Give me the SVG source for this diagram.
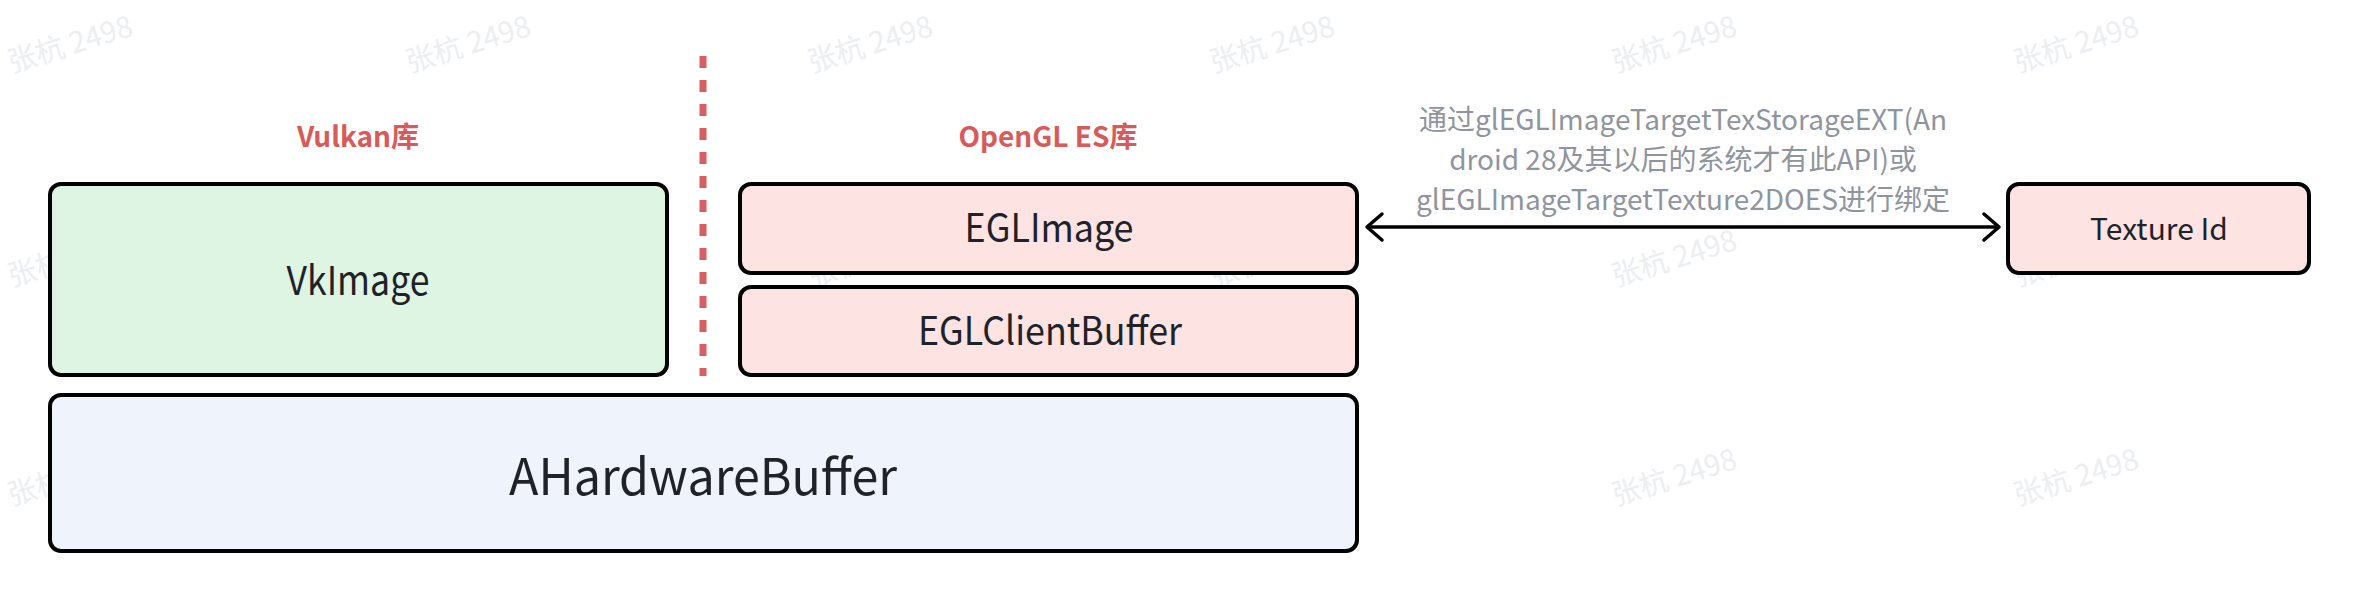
<svg xmlns="http://www.w3.org/2000/svg" width="2362" height="602" viewBox="0 0 2362 602">
<style>
.box{stroke:#000;stroke-width:4}
.green{fill:#def5e4}
.pink{fill:#fee3e3}
.blue{fill:#eff3fb}
.t{font-family:"Noto Sans CJK SC","Noto Sans",sans-serif;fill:#1f2329;text-anchor:middle}
.lib{font-family:"Noto Sans CJK SC","Noto Sans",sans-serif;fill:#d65b5a;font-weight:bold;font-size:28px;text-anchor:middle}
.lbl{font-family:"Noto Sans CJK SC","Noto Sans",sans-serif;fill:#8f959e;font-size:28px;text-anchor:middle}
.wm{font-family:"Noto Sans CJK SC","Liberation Sans",sans-serif;fill:#eceef1;font-size:29px;text-anchor:middle}
.conn{stroke:#000;stroke-width:3.5;fill:none}
</style>
<defs>
<marker id="chev" viewBox="-18 -16 21 32" refX="0" refY="0" markerWidth="21" markerHeight="32" markerUnits="userSpaceOnUse" orient="auto-start-reverse">
<path d="M-15,-13 L0,0 L-15,13" fill="none" stroke="#000" stroke-width="3.5" stroke-linecap="round" stroke-linejoin="round"/>
</marker>
</defs>
<rect width="2362" height="602" fill="#fff"/>
<g id="watermarks">
<g id="wm-row1">
<text class="wm" transform="translate(73,54) rotate(-17)">张杭 2498</text>
<text class="wm" transform="translate(471,54) rotate(-17)">张杭 2498</text>
<text class="wm" transform="translate(873,54) rotate(-17)">张杭 2498</text>
<text class="wm" transform="translate(1275,54) rotate(-17)">张杭 2498</text>
<text class="wm" transform="translate(1677,54) rotate(-17)">张杭 2498</text>
<text class="wm" transform="translate(2079,54) rotate(-17)">张杭 2498</text>
</g>
<g id="wm-row2">
<text class="wm" transform="translate(73,268) rotate(-17)">张杭 2498</text>
<text class="wm" transform="translate(471,268) rotate(-17)">张杭 2498</text>
<text class="wm" transform="translate(873,268) rotate(-17)">张杭 2498</text>
<text class="wm" transform="translate(1275,268) rotate(-17)">张杭 2498</text>
<text class="wm" transform="translate(1677,268) rotate(-17)">张杭 2498</text>
<text class="wm" transform="translate(2079,268) rotate(-17)">张杭 2498</text>
</g>
<g id="wm-row3">
<text class="wm" transform="translate(73,487) rotate(-17)">张杭 2498</text>
<text class="wm" transform="translate(471,487) rotate(-17)">张杭 2498</text>
<text class="wm" transform="translate(873,487) rotate(-17)">张杭 2498</text>
<text class="wm" transform="translate(1275,487) rotate(-17)">张杭 2498</text>
<text class="wm" transform="translate(1677,487) rotate(-17)">张杭 2498</text>
<text class="wm" transform="translate(2079,487) rotate(-17)">张杭 2498</text>
</g>
</g>
<g id="divider">
<line x1="703" y1="56" x2="703" y2="376" stroke="#d5605f" stroke-width="7" stroke-dasharray="12 12"/>
</g>
<g id="vulkan-label"><text class="lib" x="358" y="147">Vulkan库</text></g>
<g id="opengl-label"><text class="lib" x="1048" y="147">OpenGL ES库</text></g>
<g id="vkimage">
<rect class="box green" x="50" y="184" width="617" height="191" rx="11"/>
<text class="t" x="358" y="295" font-size="40" textLength="143" lengthAdjust="spacingAndGlyphs">VkImage</text>
</g>
<g id="eglimage">
<rect class="box pink" x="740" y="184" width="617" height="89" rx="11"/>
<text class="t" x="1049" y="242" font-size="39" textLength="169" lengthAdjust="spacingAndGlyphs">EGLImage</text>
</g>
<g id="eglclientbuffer">
<rect class="box pink" x="740" y="287" width="617" height="88" rx="11"/>
<text class="t" x="1050" y="345" font-size="39" textLength="264" lengthAdjust="spacingAndGlyphs">EGLClientBuffer</text>
</g>
<g id="ahardwarebuffer">
<rect class="box blue" x="50" y="395" width="1307" height="156" rx="11"/>
<text class="t" x="703" y="495" font-size="50" textLength="388" lengthAdjust="spacingAndGlyphs">AHardwareBuffer</text>
</g>
<g id="textureid">
<rect class="box pink" x="2008" y="184" width="301" height="89" rx="11"/>
<text class="t" x="2159" y="240" font-size="30">Texture Id</text>
</g>
<g id="connectors">
<line class="conn" x1="1367" y1="227" x2="1999" y2="227" marker-start="url(#chev)" marker-end="url(#chev)"/>
<text class="lbl" x="1683" y="130">通过glEGLImageTargetTexStorageEXT(An</text>
<text class="lbl" x="1683" y="170">droid 28及其以后的系统才有此API)或</text>
<text class="lbl" x="1683" y="210">glEGLImageTargetTexture2DOES进行绑定</text>
</g>
</svg>
